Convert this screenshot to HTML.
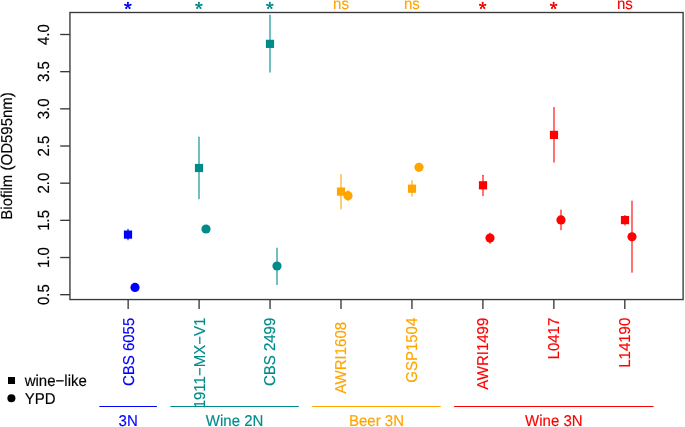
<!DOCTYPE html><html><head><meta charset="utf-8"><title>Biofilm plot</title><style>html,body{margin:0;padding:0;background:#fff;overflow:hidden}svg{display:block;will-change:transform}text{font-family:"Liberation Sans",sans-serif;font-size:15px;text-rendering:geometricPrecision}</style></head><body>
<svg width="685" height="427" viewBox="0 0 685 427">
<rect x="0" y="0" width="685" height="427" fill="#fff"/>
<line x1="128.00" y1="229.40" x2="128.00" y2="239.70" stroke="#0000ff" stroke-width="1.20" stroke-opacity="0.92" stroke-linecap="round"/>
<line x1="199.00" y1="137.20" x2="199.00" y2="198.70" stroke="#008b8b" stroke-width="1.20" stroke-opacity="0.92" stroke-linecap="round"/>
<line x1="270.00" y1="15.10" x2="270.00" y2="72.10" stroke="#008b8b" stroke-width="1.20" stroke-opacity="0.92" stroke-linecap="round"/>
<line x1="277.00" y1="248.00" x2="277.00" y2="284.40" stroke="#008b8b" stroke-width="1.20" stroke-opacity="0.92" stroke-linecap="round"/>
<line x1="341.00" y1="174.50" x2="341.00" y2="208.80" stroke="#ffa500" stroke-width="1.20" stroke-opacity="0.92" stroke-linecap="round"/>
<line x1="348.00" y1="190.90" x2="348.00" y2="200.60" stroke="#ffa500" stroke-width="1.20" stroke-opacity="0.92" stroke-linecap="round"/>
<line x1="412.00" y1="180.70" x2="412.00" y2="196.20" stroke="#ffa500" stroke-width="1.20" stroke-opacity="0.92" stroke-linecap="round"/>
<line x1="483.00" y1="175.30" x2="483.00" y2="195.60" stroke="#ff0000" stroke-width="1.20" stroke-opacity="0.92" stroke-linecap="round"/>
<line x1="490.00" y1="233.00" x2="490.00" y2="243.20" stroke="#ff0000" stroke-width="1.20" stroke-opacity="0.92" stroke-linecap="round"/>
<line x1="554.00" y1="107.60" x2="554.00" y2="162.10" stroke="#ff0000" stroke-width="1.20" stroke-opacity="0.92" stroke-linecap="round"/>
<line x1="561.00" y1="210.10" x2="561.00" y2="229.70" stroke="#ff0000" stroke-width="1.20" stroke-opacity="0.92" stroke-linecap="round"/>
<line x1="625.00" y1="215.60" x2="625.00" y2="225.00" stroke="#ff0000" stroke-width="1.20" stroke-opacity="0.92" stroke-linecap="round"/>
<line x1="632.00" y1="201.00" x2="632.00" y2="272.20" stroke="#ff0000" stroke-width="1.20" stroke-opacity="0.92" stroke-linecap="round"/>
<rect x="123.90" y="230.50" width="8.20" height="8.20" fill="#0000ff"/>
<circle cx="135.00" cy="287.40" r="4.60" fill="#0000ff"/>
<rect x="194.90" y="163.90" width="8.20" height="8.20" fill="#008b8b"/>
<circle cx="206.00" cy="229.00" r="4.60" fill="#008b8b"/>
<rect x="265.90" y="39.75" width="8.20" height="8.20" fill="#008b8b"/>
<circle cx="277.00" cy="266.00" r="4.60" fill="#008b8b"/>
<rect x="336.90" y="187.50" width="8.20" height="8.20" fill="#ffa500"/>
<circle cx="348.00" cy="195.70" r="4.60" fill="#ffa500"/>
<rect x="407.90" y="184.60" width="8.20" height="8.20" fill="#ffa500"/>
<circle cx="419.00" cy="167.30" r="4.60" fill="#ffa500"/>
<rect x="478.90" y="181.20" width="8.20" height="8.20" fill="#ff0000"/>
<circle cx="490.00" cy="238.10" r="4.60" fill="#ff0000"/>
<rect x="549.90" y="130.80" width="8.20" height="8.20" fill="#ff0000"/>
<circle cx="561.00" cy="219.90" r="4.60" fill="#ff0000"/>
<rect x="620.90" y="216.00" width="8.20" height="8.20" fill="#ff0000"/>
<circle cx="632.00" cy="236.80" r="4.60" fill="#ff0000"/>
<rect x="69.95" y="12.50" width="613.15" height="287.05" fill="none" stroke="#383838" stroke-width="1.35"/>
<line x1="60.2" y1="34.50" x2="69.95" y2="34.50" stroke="#383838" stroke-width="1.35"/>
<text transform="translate(48.70,34.50) rotate(-90) scale(1,1.080)" fill="#000" stroke="#000" stroke-width="0.15" text-anchor="middle">4.0</text>
<line x1="60.2" y1="71.67" x2="69.95" y2="71.67" stroke="#383838" stroke-width="1.35"/>
<text transform="translate(48.70,71.67) rotate(-90) scale(1,1.080)" fill="#000" stroke="#000" stroke-width="0.15" text-anchor="middle">3.5</text>
<line x1="60.2" y1="108.84" x2="69.95" y2="108.84" stroke="#383838" stroke-width="1.35"/>
<text transform="translate(48.70,108.84) rotate(-90) scale(1,1.080)" fill="#000" stroke="#000" stroke-width="0.15" text-anchor="middle">3.0</text>
<line x1="60.2" y1="146.01" x2="69.95" y2="146.01" stroke="#383838" stroke-width="1.35"/>
<text transform="translate(48.70,146.01) rotate(-90) scale(1,1.080)" fill="#000" stroke="#000" stroke-width="0.15" text-anchor="middle">2.5</text>
<line x1="60.2" y1="183.18" x2="69.95" y2="183.18" stroke="#383838" stroke-width="1.35"/>
<text transform="translate(48.70,183.18) rotate(-90) scale(1,1.080)" fill="#000" stroke="#000" stroke-width="0.15" text-anchor="middle">2.0</text>
<line x1="60.2" y1="220.35" x2="69.95" y2="220.35" stroke="#383838" stroke-width="1.35"/>
<text transform="translate(48.70,220.35) rotate(-90) scale(1,1.080)" fill="#000" stroke="#000" stroke-width="0.15" text-anchor="middle">1.5</text>
<line x1="60.2" y1="257.52" x2="69.95" y2="257.52" stroke="#383838" stroke-width="1.35"/>
<text transform="translate(48.70,257.52) rotate(-90) scale(1,1.080)" fill="#000" stroke="#000" stroke-width="0.15" text-anchor="middle">1.0</text>
<line x1="60.2" y1="294.69" x2="69.95" y2="294.69" stroke="#383838" stroke-width="1.35"/>
<text transform="translate(48.70,294.69) rotate(-90) scale(1,1.080)" fill="#000" stroke="#000" stroke-width="0.15" text-anchor="middle">0.5</text>
<text transform="translate(12.30,155.9) rotate(-90) scale(1,1.050)" fill="#000" stroke="#000" stroke-width="0.15" text-anchor="middle">Biofilm (OD595nm)</text>
<line x1="128.15" y1="299.55" x2="128.15" y2="308.9" stroke="#383838" stroke-width="1.35"/>
<text transform="translate(133.55,317.70) rotate(-90) scale(1,1.050)" fill="#0000ff" stroke="#0000ff" stroke-width="0.15" text-anchor="end">CBS 6055</text>
<path d="M127.90 5.60L127.90 2.75M127.90 5.60L130.61 4.72M127.90 5.60L129.58 7.91M127.90 5.60L126.22 7.91M127.90 5.60L125.19 4.72" stroke="#0000ff" stroke-width="1.45" stroke-linecap="round" fill="none"/><circle cx="127.90" cy="2.75" r="1.00" fill="#0000ff"/><circle cx="130.61" cy="4.72" r="1.00" fill="#0000ff"/><circle cx="129.58" cy="7.91" r="1.00" fill="#0000ff"/><circle cx="126.22" cy="7.91" r="1.00" fill="#0000ff"/><circle cx="125.19" cy="4.72" r="1.00" fill="#0000ff"/>
<line x1="199.10" y1="299.55" x2="199.10" y2="308.9" stroke="#383838" stroke-width="1.35"/>
<text transform="translate(204.50,317.70) rotate(-90) scale(1,1.050)" fill="#008b8b" stroke="#008b8b" stroke-width="0.15" text-anchor="end">1911−MX−V1</text>
<path d="M198.85 5.60L198.85 2.75M198.85 5.60L201.56 4.72M198.85 5.60L200.53 7.91M198.85 5.60L197.17 7.91M198.85 5.60L196.14 4.72" stroke="#008b8b" stroke-width="1.45" stroke-linecap="round" fill="none"/><circle cx="198.85" cy="2.75" r="1.00" fill="#008b8b"/><circle cx="201.56" cy="4.72" r="1.00" fill="#008b8b"/><circle cx="200.53" cy="7.91" r="1.00" fill="#008b8b"/><circle cx="197.17" cy="7.91" r="1.00" fill="#008b8b"/><circle cx="196.14" cy="4.72" r="1.00" fill="#008b8b"/>
<line x1="270.05" y1="299.55" x2="270.05" y2="308.9" stroke="#383838" stroke-width="1.35"/>
<text transform="translate(275.45,317.70) rotate(-90) scale(1,1.050)" fill="#008b8b" stroke="#008b8b" stroke-width="0.15" text-anchor="end">CBS 2499</text>
<path d="M269.80 5.60L269.80 2.75M269.80 5.60L272.51 4.72M269.80 5.60L271.48 7.91M269.80 5.60L268.12 7.91M269.80 5.60L267.09 4.72" stroke="#008b8b" stroke-width="1.45" stroke-linecap="round" fill="none"/><circle cx="269.80" cy="2.75" r="1.00" fill="#008b8b"/><circle cx="272.51" cy="4.72" r="1.00" fill="#008b8b"/><circle cx="271.48" cy="7.91" r="1.00" fill="#008b8b"/><circle cx="268.12" cy="7.91" r="1.00" fill="#008b8b"/><circle cx="267.09" cy="4.72" r="1.00" fill="#008b8b"/>
<line x1="341.00" y1="299.55" x2="341.00" y2="308.9" stroke="#383838" stroke-width="1.35"/>
<text transform="translate(346.40,321.87) rotate(-90) scale(1,1.050)" fill="#ffa500" stroke="#ffa500" stroke-width="0.15" text-anchor="end">AWRI1608</text>
<text transform="translate(341.00,9.0) scale(1,1.050)" fill="#ffa500" stroke="#ffa500" stroke-width="0.15" text-anchor="middle">ns</text>
<line x1="411.95" y1="299.55" x2="411.95" y2="308.9" stroke="#383838" stroke-width="1.35"/>
<text transform="translate(417.35,317.70) rotate(-90) scale(1,1.050)" fill="#ffa500" stroke="#ffa500" stroke-width="0.15" text-anchor="end">GSP1504</text>
<text transform="translate(411.95,9.0) scale(1,1.050)" fill="#ffa500" stroke="#ffa500" stroke-width="0.15" text-anchor="middle">ns</text>
<line x1="482.90" y1="299.55" x2="482.90" y2="308.9" stroke="#383838" stroke-width="1.35"/>
<text transform="translate(488.30,317.70) rotate(-90) scale(1,1.050)" fill="#ff0000" stroke="#ff0000" stroke-width="0.15" text-anchor="end">AWRI1499</text>
<path d="M482.65 5.60L482.65 2.75M482.65 5.60L485.36 4.72M482.65 5.60L484.33 7.91M482.65 5.60L480.97 7.91M482.65 5.60L479.94 4.72" stroke="#ff0000" stroke-width="1.45" stroke-linecap="round" fill="none"/><circle cx="482.65" cy="2.75" r="1.00" fill="#ff0000"/><circle cx="485.36" cy="4.72" r="1.00" fill="#ff0000"/><circle cx="484.33" cy="7.91" r="1.00" fill="#ff0000"/><circle cx="480.97" cy="7.91" r="1.00" fill="#ff0000"/><circle cx="479.94" cy="4.72" r="1.00" fill="#ff0000"/>
<line x1="553.85" y1="299.55" x2="553.85" y2="308.9" stroke="#383838" stroke-width="1.35"/>
<text transform="translate(559.25,317.70) rotate(-90) scale(1,1.050)" fill="#ff0000" stroke="#ff0000" stroke-width="0.15" text-anchor="end">L0417</text>
<path d="M553.60 5.60L553.60 2.75M553.60 5.60L556.31 4.72M553.60 5.60L555.28 7.91M553.60 5.60L551.92 7.91M553.60 5.60L550.89 4.72" stroke="#ff0000" stroke-width="1.45" stroke-linecap="round" fill="none"/><circle cx="553.60" cy="2.75" r="1.00" fill="#ff0000"/><circle cx="556.31" cy="4.72" r="1.00" fill="#ff0000"/><circle cx="555.28" cy="7.91" r="1.00" fill="#ff0000"/><circle cx="551.92" cy="7.91" r="1.00" fill="#ff0000"/><circle cx="550.89" cy="4.72" r="1.00" fill="#ff0000"/>
<line x1="624.80" y1="299.55" x2="624.80" y2="308.9" stroke="#383838" stroke-width="1.35"/>
<text transform="translate(630.20,317.70) rotate(-90) scale(1,1.050)" fill="#ff0000" stroke="#ff0000" stroke-width="0.15" text-anchor="end">L14190</text>
<text transform="translate(624.80,9.0) scale(1,1.050)" fill="#ff0000" stroke="#ff0000" stroke-width="0.15" text-anchor="middle">ns</text>
<rect x="8" y="377" width="7" height="7" fill="#000"/>
<circle cx="11.4" cy="398.3" r="4" fill="#000"/>
<text transform="translate(24.7,386.0) scale(1,1.050)" fill="#000" stroke="#000" stroke-width="0.15">wine−like</text>
<text transform="translate(24.7,404.0) scale(1,1.050)" fill="#000" stroke="#000" stroke-width="0.15">YPD</text>
<line x1="99.77" y1="406.5" x2="156.53" y2="406.5" stroke="#0000ff" stroke-width="1.1" stroke-linecap="round"/>
<text transform="translate(128.15,425.6) scale(1,1.050)" fill="#0000ff" stroke="#0000ff" stroke-width="0.15" text-anchor="middle">3N</text>
<line x1="170.72" y1="406.5" x2="298.43" y2="406.5" stroke="#008b8b" stroke-width="1.1" stroke-linecap="round"/>
<text transform="translate(234.58,425.6) scale(1,1.050)" fill="#008b8b" stroke="#008b8b" stroke-width="0.15" text-anchor="middle">Wine 2N</text>
<line x1="312.62" y1="406.5" x2="440.33" y2="406.5" stroke="#ffa500" stroke-width="1.1" stroke-linecap="round"/>
<text transform="translate(376.48,425.6) scale(1,1.050)" fill="#ffa500" stroke="#ffa500" stroke-width="0.15" text-anchor="middle">Beer 3N</text>
<line x1="454.52" y1="406.5" x2="653.18" y2="406.5" stroke="#ff0000" stroke-width="1.1" stroke-linecap="round"/>
<text transform="translate(553.85,425.6) scale(1,1.050)" fill="#ff0000" stroke="#ff0000" stroke-width="0.15" text-anchor="middle">Wine 3N</text>
</svg></body></html>
